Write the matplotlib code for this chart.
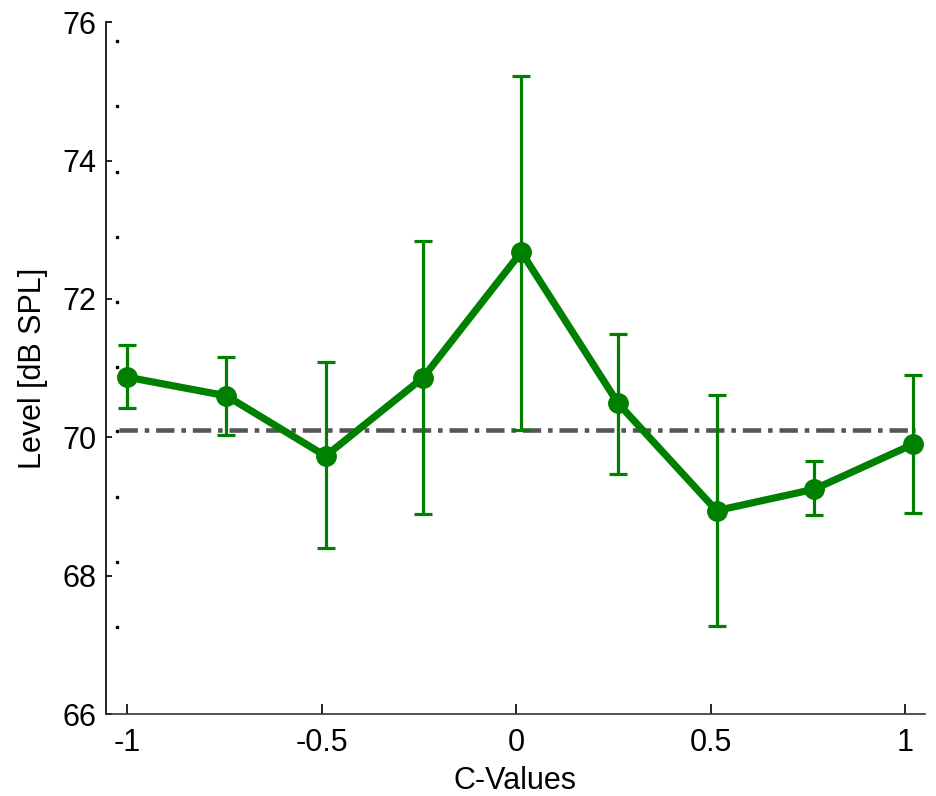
import numpy as np
import matplotlib
matplotlib.use("Agg")
import matplotlib.pyplot as plt
from matplotlib.transforms import blended_transform_factory

plt.rcParams['font.family'] = ['Liberation Sans', 'DejaVu Sans']

# measured C-values (points sit slightly off the nominal ticks)
c_values = [-1.0, -0.745, -0.49, -0.24, 0.013, 0.262, 0.515, 0.766, 1.02]
level = [70.87, 70.60, 69.73, 70.86, 72.68, 70.49, 68.94, 69.25, 69.90]
err_top = [71.33, 71.16, 71.09, 72.84, 75.23, 71.50, 70.61, 69.66, 70.90]
err_bottom = [70.42, 70.03, 68.40, 68.89, 70.10, 69.47, 67.27, 68.87, 68.91]

# reference level (dash-dot line)
ref_x = [-1.02, 1.025]
ref_level = [70.1, 70.1]

# stray tick dots along the left side of the plot
stray_ticks = [75.73, 74.79, 73.84, 72.90, 71.96, 71.01, 70.09, 69.14, 68.20, 67.26]

x_ticks = [-1, -0.5, 0, 0.5, 1]
x_labels = ['-1', '-0.5', '0', '0.5', '1']
y_ticks = [66, 68, 70, 72, 74, 76]

level = np.array(level)
yerr = [level - np.array(err_bottom), np.array(err_top) - level]

fig = plt.figure(figsize=(9.36, 7.96), dpi=100)
ax = fig.add_axes([0.113, 0.103, 0.875, 0.869])

ax.plot(ref_x, ref_level, color='#555555', linewidth=3.3, linestyle=(0, (4, 1.5, 1, 1.5)), zorder=2)

ax.errorbar(c_values, level, yerr=yerr, color='#008000', linewidth=5.2, marker='o',
            markersize=14, ecolor='#008000', elinewidth=2.3, capsize=6.2, capthick=2.3, zorder=3)

trans = blended_transform_factory(ax.transAxes, ax.transData)
ax.plot([0.014] * len(stray_ticks), stray_ticks, linestyle='none', marker='s', markersize=1.6,
        color='black', transform=trans, clip_on=False)

ax.set_xlim(-1.055, 1.05)
ax.set_ylim(66, 76)
ax.set_xticks(x_ticks)
ax.set_xticklabels(x_labels)
ax.set_yticks(y_ticks)

ax.spines['top'].set_visible(False)
ax.spines['right'].set_visible(False)
ax.spines['left'].set_linewidth(1.2)
ax.spines['bottom'].set_linewidth(1.2)
ax.spines['bottom'].set_color('#333333')

ax.tick_params(axis='both', direction='in', labelsize=22, width=1.2)
ax.tick_params(axis='x', length=7, pad=10)
ax.tick_params(axis='y', length=4, pad=7)

ax.set_xlabel('C-Values', fontsize=22, labelpad=6)
ax.set_ylabel('Level [dB SPL]', fontsize=22, labelpad=10)

fig.savefig('out.png', dpi=100)
